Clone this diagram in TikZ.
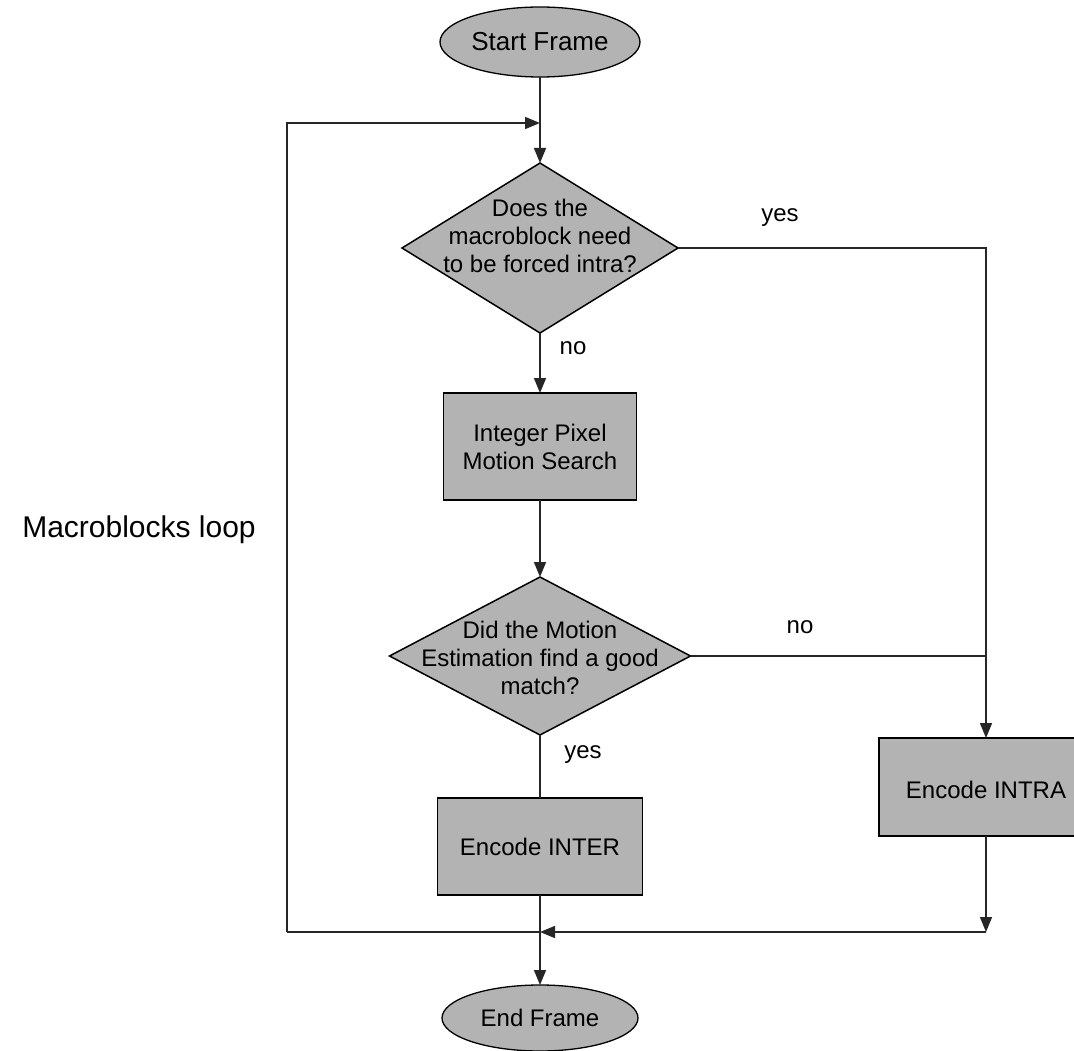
\documentclass[tikz,border=0pt]{standalone}
\usepackage{fontspec}
\setmainfont{Liberation Sans}
\usetikzlibrary{shapes.geometric,arrows.meta}
\definecolor{boxgray}{RGB}{179,179,179}
\begin{document}
\begin{tikzpicture}[x=1pt,y=-1pt,
  every node/.style={outer sep=0pt},
  txt/.style={font=\fontsize{24}{28}\selectfont, align=center, inner sep=0pt},
  term/.style={ellipse, draw=black, line width=1.3pt, fill=boxgray, inner sep=0pt},
  dia/.style={diamond, draw=black, line width=1.5pt, fill=boxgray, inner sep=0pt},
  proc/.style={rectangle, draw=black, line width=1.5pt, fill=boxgray, inner sep=0pt},
  conn/.style={line width=1.5pt, draw=black!85},
  arr/.style={conn, -{Triangle[length=15pt,width=12pt]}}]
\useasboundingbox (0,0) rectangle (1074,1051);
\fill[white] (0,0) rectangle (1074,1051);

\node[term, minimum width=200pt, minimum height=70pt] (start) at (540,42) {};
\node[txt, font=\fontsize{26}{30}\selectfont] (starttxt) at (start) {Start Frame};

\node[dia, minimum width=276pt, minimum height=170pt] (d1) at (540,248) {};
\node[txt] (d1txt) at (540,236) {Does the\\macroblock need\\to be forced intra?};

\node[proc, minimum width=193pt, minimum height=107pt] (p1) at (540,446.5) {};
\node[txt] (p1txt) at (p1) {Integer Pixel\\Motion Search};

\node[dia, minimum width=301pt, minimum height=158pt] (d2) at (540,656) {};
\node[txt] (d2txt) at (540,658) {Did the Motion\\Estimation find a good\\match?};

\node[proc, minimum width=205pt, minimum height=97pt] (inter) at (540,846.5) {};
\node[txt] (intertxt) at (inter) {Encode INTER};

\node[proc, minimum width=214pt, minimum height=98pt] (intra) at (986,787) {};
\node[txt] (intratxt) at (986,790) {Encode INTRA};

\node[term, minimum width=196pt, minimum height=66pt] (end) at (540,1018) {};
\node[txt] (endtxt) at (end) {End Frame};

\node[txt] (lyes1) at (780,218) {yes};
\node[txt] (lno1) at (573,348) {no};
\node[txt] (lno2) at (800,627) {no};
\node[txt] (lyes2) at (583,755) {yes};
\node[txt, font=\fontsize{30}{34}\selectfont] (loop) at (139,530) {Macroblocks loop};

\coordinate (tj) at (540,123);
\coordinate (lt) at (287,123);
\coordinate (lb) at (287,932);
\coordinate (bj) at (540,932);
\coordinate (rb) at (986,932);

\draw[arr] (start.south) -- (d1.north);
\draw[arr] (lb) -- (lt) -- (tj);
\draw[conn] (bj) -- (lb);
\draw[arr] (d1.east) -| (intra.north);
\draw[arr] (d1.south) -- (p1.north);
\draw[arr] (p1.south) -- (d2.north);
\draw[conn] (d2.east) -- (d2.east -| intra.north);
\draw[conn] (d2.south) -- (inter.north);
\draw[arr] (inter.south) -- (end.north);
\draw[arr] (intra.south) -- (rb);
\draw[arr] (rb) -- (bj);
\end{tikzpicture}
\end{document}
